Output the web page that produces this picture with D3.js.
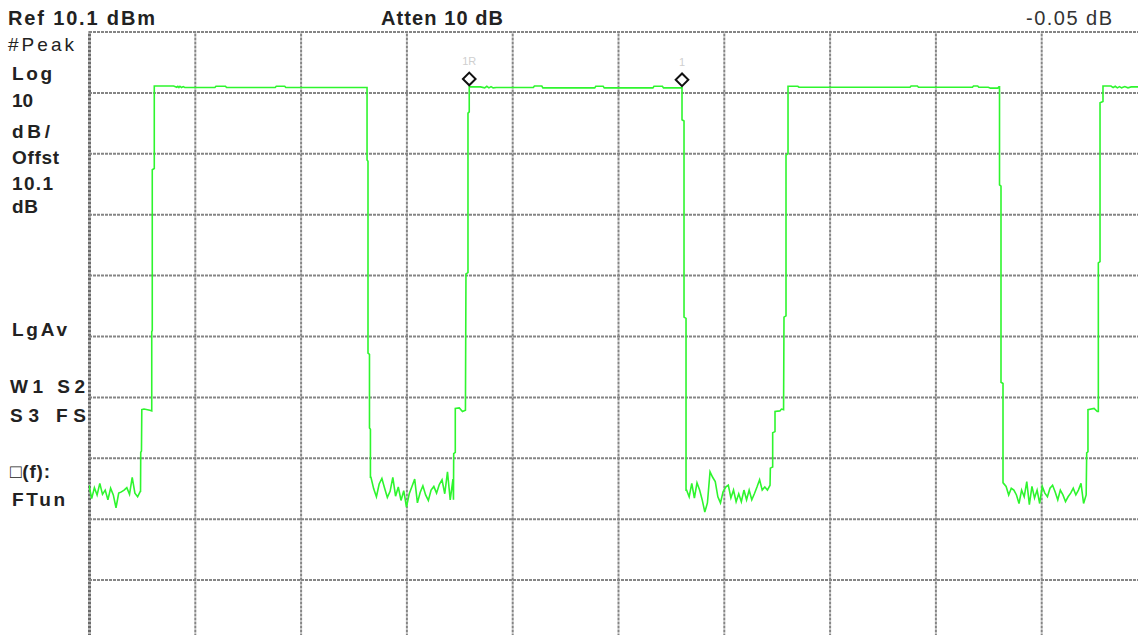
<!DOCTYPE html>
<html>
<head>
<meta charset="utf-8">
<script src="https://cdn.jsdelivr.net/npm/d3@7"></script>
<style>
  body { margin: 0; background: #fff; }
  svg { display: block; }
</style>
</head>
<body>
<div id="chart"></div>
<script>
//Spectrum analyzer screen: sweep position in graticule divisions (0-10), level in dBm
const refLevel = 10.1;
const dbPerDiv = 10;
const xDivisions = d3.range(0, 11);
const yLevels = d3.range(0, 11).map(k => refLevel - k * dbPerDiv);

//noise floor samples (dBm), one array per gap between bursts
const floorSpans = [[0, 0.485], [2.665, 3.440], [5.648, 6.437], [8.644, 9.425]];
const noise1 = [-64.4, -66.6, -64.8, -66.0, -64.1, -65.9, -65.2, -66.8, -64.9, -66.0,
  -68.1, -65.7, -65.5, -65.2, -64.8, -65.9, -63.1, -65.7, -66.3, -65.4];
const noise2 = [-63.1, -65.0, -66.3, -64.2, -63.3, -64.9, -66.4, -65.4, -63.1, -66.2,
  -64.7, -66.9, -65.3, -68.0, -65.8, -64.6, -63.4, -67.3, -65.6, -64.5, -66.0, -66.9,
  -65.2, -64.6, -65.7, -64.3, -63.5, -65.8, -62.2, -66.8, -63.4];
const noise3 = [-65.2, -66.3, -64.1, -66.5, -64.0, -65.2, -66.8, -68.8, -67.3, -62.2,
  -63.1, -63.8, -66.3, -67.3, -65.5, -64.7, -64.4, -66.5, -65.2, -67.1, -65.8, -67.1,
  -65.2, -66.8, -65.2, -66.8, -65.8, -64.7, -63.5, -65.2, -64.7, -65.2, -64.4];
const noise4 = [-64.1, -64.6, -66.0, -64.9, -65.2, -66.0, -67.4, -65.2, -66.3, -63.8,
  -67.6, -64.6, -66.5, -65.2, -67.4, -64.6, -65.7, -66.3, -64.9, -64.4, -65.5, -66.8,
  -65.2, -66.0, -67.1, -66.3, -65.7, -64.9, -66.0, -65.2, -64.1, -67.4, -66.0];

//burst edges and tops [div, dBm]
const rise1 = [[0.487, -65.4], [0.489, -59.0], [0.496, -58.8], [0.499, -52.0], [0.520, -51.9],
  [0.575, -52.1], [0.593, -52.2], [0.593, -39.2], [0.598, -39.0], [0.598, -12.6], [0.617, -12.4], [0.617, 1.15]];
const top1 = [[0.800, 1.15], [0.830, 0.95], [0.840, 1.1], [0.850, 0.9], [0.860, 1.1], [0.875, 0.9],
  [0.890, 1.05], [0.905, 0.9], [1.190, 0.9], [1.200, 1.1], [1.290, 1.1], [1.300, 0.9], [1.760, 0.9],
  [1.770, 1.1], [1.850, 1.1], [1.860, 0.9], [2.628, 0.9]];
const fall1 = [[2.628, -11.0], [2.637, -11.2], [2.637, -42.7], [2.651, -42.9], [2.651, -55.0],
  [2.660, -55.2], [2.660, -63.1]];
const rise2 = [[3.445, -66.8], [3.447, -59.2], [3.462, -59.0], [3.462, -51.8], [3.500, -51.7],
  [3.530, -52.3], [3.558, -52.1], [3.563, -29.7], [3.582, -29.5], [3.582, -3.3], [3.594, -3.1], [3.594, 1.0]];
const top2 = [[3.700, 1.0], [3.740, 0.85], [3.760, 1.1], [3.780, 0.85], [3.800, 1.05], [3.820, 0.85],
  [3.850, 0.9], [4.200, 0.9], [4.210, 1.15], [4.280, 1.15], [4.290, 0.85], [4.780, 0.85], [4.790, 1.1],
  [4.860, 1.1], [4.870, 0.85], [5.330, 0.85], [5.340, 1.1], [5.420, 1.1], [5.430, 0.85], [5.605, 0.85]];
const fall2 = [[5.605, -4.4], [5.624, -4.6], [5.624, -36.8], [5.643, -37.0], [5.643, -65.2]];
const rise3 = [[6.440, -61.6], [6.462, -61.4], [6.462, -55.8], [6.484, -55.6], [6.484, -52.3],
  [6.530, -52.2], [6.545, -51.9], [6.565, -52.0], [6.569, -36.8], [6.588, -36.6], [6.588, -10.2],
  [6.607, -10.0], [6.607, 1.1]];
const top3 = [[6.700, 1.1], [6.710, 0.95], [7.760, 0.95], [7.770, 1.15], [7.830, 1.15], [7.840, 0.95],
  [8.350, 0.95], [8.360, 1.15], [8.400, 1.15], [8.410, 0.95], [8.500, 0.95], [8.520, 0.8], [8.590, 0.8],
  [8.600, 1.0], [8.606, 1.0]];
const fall3 = [[8.606, -15.1], [8.620, -15.3], [8.620, -47.5], [8.639, -47.7], [8.639, -64.0]];
const rise4 = [[9.430, -59.1], [9.442, -58.9], [9.442, -52.0], [9.500, -51.8], [9.530, -52.3],
  [9.540, -52.3], [9.540, -27.9], [9.556, -27.7], [9.556, -1.6], [9.584, -1.4], [9.584, 1.15]];
const top4 = [[9.660, 1.15], [9.680, 0.9], [9.700, 1.1], [9.720, 0.85], [9.740, 1.05], [9.760, 0.85],
  [9.790, 1.05], [9.820, 0.85], [9.850, 1.0], [10.0, 1.0]];

const markerLabels = ["1R", "1"];
const markerPos = [3.594, 5.605];
const markerLevels = [1.0, 0.85];

const headerTexts = ["Ref 10.1 dBm", "Atten 10 dB", "-0.05 dB"];
const sideTexts = ["#Peak", "Log", "10", "dB/", "Offst", "10.1", "dB", "LgAv", "W1  S2", "S3  FS", "\u25A1(f):", "FTun"];

//Formatting
const width = 1138, height = 635;
const plotLeft = 89, plotRight = 1147, plotTop = 31.5, plotBottom = 640.5;
const traceColor = "#2ef52e";
const gridColor = "#858585";

const svg = d3.select("#chart").append("svg").attr("width", width).attr("height", height);
svg.append("rect").attr("width", width).attr("height", height).attr("fill", "#fff");

const x = d3.scaleLinear().domain([0, 10]).range([plotLeft, plotRight]);
const y = d3.scaleLinear().domain([refLevel - 10 * dbPerDiv, refLevel]).range([plotBottom, plotTop]);

//graticule
const xGrid = svg.append("g").attr("transform", `translate(0, ${plotBottom})`)
  .call(d3.axisBottom(x).tickValues(xDivisions).tickSize(-(plotBottom - plotTop)).tickFormat(""));
const yGrid = svg.append("g").attr("transform", `translate(${plotLeft}, 0)`)
  .call(d3.axisLeft(y).tickValues(yLevels).tickSize(-(plotRight - plotLeft)).tickFormat(""));
[xGrid, yGrid].forEach(g => {
  g.select(".domain").remove();
  g.selectAll(".tick line").attr("stroke", gridColor).attr("stroke-width", 2).attr("stroke-dasharray", "3,1");
});
xGrid.selectAll(".tick").filter(d => d === 0).select("line").attr("stroke-width", 3).attr("stroke", "#6a6a6a");

//trace
svg.append("clipPath").attr("id", "plot-clip").append("rect")
  .attr("x", plotLeft).attr("y", plotTop).attr("width", plotRight - plotLeft).attr("height", plotBottom - plotTop);

const floors = [noise1, noise2, noise3, noise4].map((vals, i) => {
  const [a, b] = floorSpans[i];
  return vals.map((v, k) => [a + (b - a) * k / (vals.length - 1), v]);
});
const trace = [].concat(floors[0], rise1, top1, fall1, floors[1], rise2, top2, fall2,
  floors[2], rise3, top3, fall3, floors[3], rise4, top4);

const line = d3.line().x(d => x(d[0])).y(d => y(d[1]));
svg.append("path").datum(trace)
  .attr("clip-path", "url(#plot-clip)")
  .attr("d", line)
  .attr("fill", "none")
  .attr("stroke", traceColor)
  .attr("stroke-width", 1.6)
  .attr("stroke-linejoin", "miter");

//markers
const markers = svg.append("g").selectAll("g").data(markerLabels).enter().append("g")
  .attr("transform", (d, i) => `translate(${x(markerPos[i])}, ${y(markerLevels[i]) - 8})`);
markers.append("path")
  .attr("d", d3.symbol(d3.symbolSquare, 80)())
  .attr("transform", "rotate(45)")
  .attr("fill", "#fff").attr("stroke", "#111").attr("stroke-width", 2);
markers.append("text").text(d => d)
  .attr("y", -14).attr("text-anchor", "middle")
  .attr("font-family", "Liberation Sans, Arial, sans-serif").attr("font-size", 11)
  .attr("fill", "#cfcfcf");

//annotation text
const font = "Liberation Sans, Arial, sans-serif";
const headerLayout = [{x: 8, w: 147, bold: true}, {x: 381, w: 122, bold: true}, {x: 1026, w: 86, bold: false}];
svg.append("g").selectAll("text").data(headerTexts).enter().append("text")
  .text(d => d)
  .attr("x", (d, i) => headerLayout[i].x).attr("y", 25)
  .attr("textLength", (d, i) => headerLayout[i].w).attr("lengthAdjust", "spacing")
  .attr("font-family", font).attr("font-size", 20)
  .attr("font-weight", (d, i) => headerLayout[i].bold ? "bold" : "normal")
  .attr("fill", (d, i) => headerLayout[i].bold ? "#222" : "#333");

const sideLayout = [
  {x: 8, y: 50.5, w: 66, bold: false}, {x: 12, y: 80, w: 40, bold: true}, {x: 12, y: 106.5, w: 21, bold: true},
  {x: 12, y: 137.5, w: 38, bold: true}, {x: 12, y: 164, w: 47, bold: true}, {x: 12, y: 190, w: 41, bold: true},
  {x: 12, y: 213, w: 26, bold: true}, {x: 12, y: 336, w: 55, bold: true}, {x: 10, y: 393, w: 75, bold: true},
  {x: 10, y: 421.5, w: 76, bold: true}, {x: 10, y: 478, w: 40, bold: true}, {x: 12, y: 506, w: 53, bold: true}
];
svg.append("g").selectAll("text").data(sideTexts).enter().append("text")
  .text(d => d)
  .attr("x", (d, i) => sideLayout[i].x).attr("y", (d, i) => sideLayout[i].y)
  .attr("textLength", (d, i) => sideLayout[i].w).attr("lengthAdjust", "spacing")
  .attr("font-family", font).attr("font-size", 19)
  .attr("font-weight", (d, i) => sideLayout[i].bold ? "bold" : "normal")
  .attr("fill", "#222");
</script>
</body>
</html>
